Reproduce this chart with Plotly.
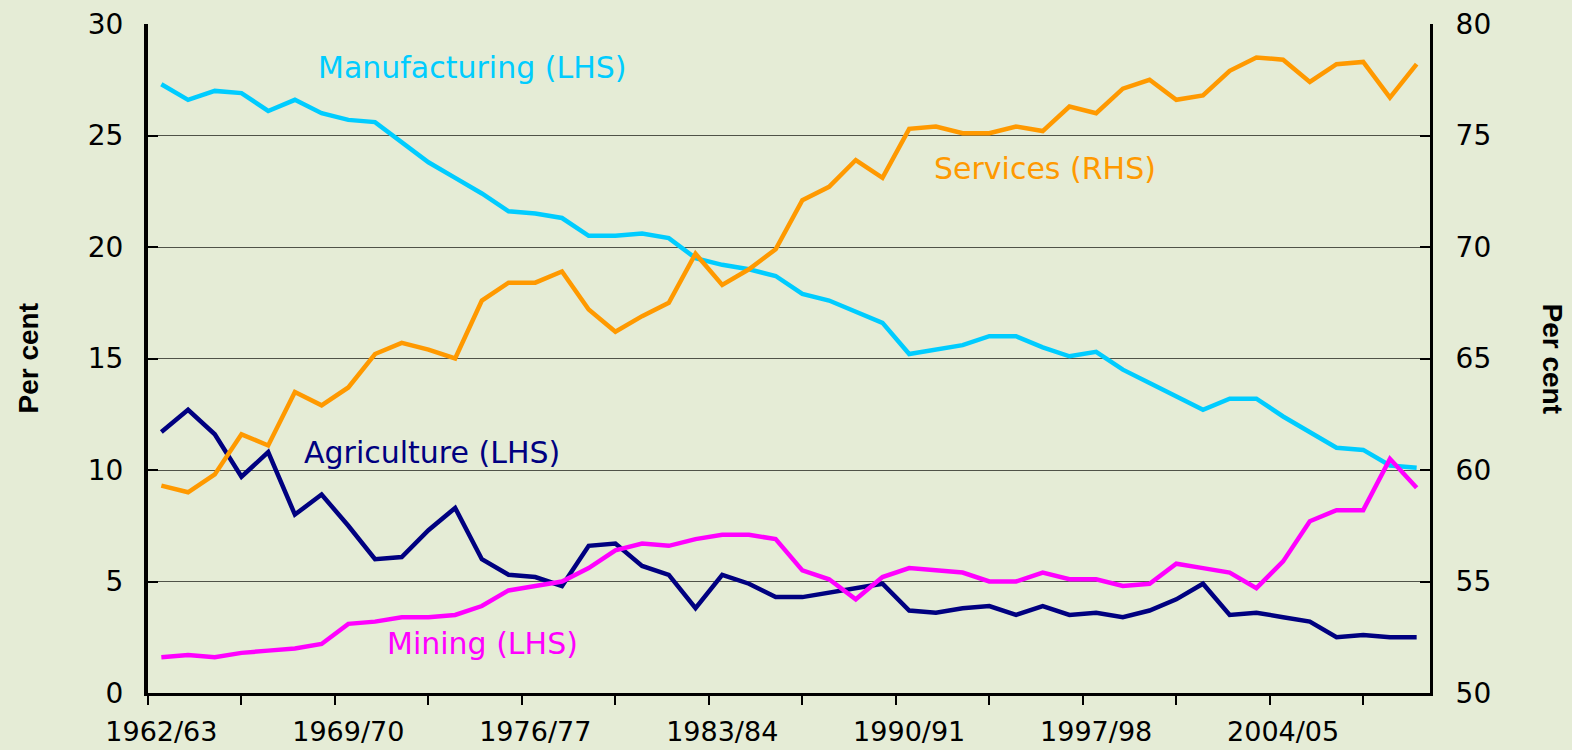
import plotly.graph_objects as go

years = [f"{y}/{(y + 1) % 100:02d}" for y in range(1962, 2010)]

manufacturing = [27.3, 26.6, 27.0, 26.9, 26.1, 26.6, 26.0, 25.7, 25.6, 24.7,
                 23.8, 23.1, 22.4, 21.6, 21.5, 21.3, 20.5, 20.5, 20.6, 20.4,
                 19.5, 19.2, 19.0, 18.7, 17.9, 17.6, 17.1, 16.6, 15.2, 15.4,
                 15.6, 16.0, 16.0, 15.5, 15.1, 15.3, 14.5, 13.9, 13.3, 12.7,
                 13.2, 13.2, 12.4, 11.7, 11.0, 10.9, 10.2, 10.1]
services = [59.3, 59.0, 59.8, 61.6, 61.1, 63.5, 62.9, 63.7, 65.2, 65.7,
            65.4, 65.0, 67.6, 68.4, 68.4, 68.9, 67.2, 66.2, 66.9, 67.5,
            69.7, 68.3, 69.0, 69.9, 72.1, 72.7, 73.9, 73.1, 75.3, 75.4,
            75.1, 75.1, 75.4, 75.2, 76.3, 76.0, 77.1, 77.5, 76.6, 76.8,
            77.9, 78.5, 78.4, 77.4, 78.2, 78.3, 76.7, 78.2]
agriculture = [11.7, 12.7, 11.6, 9.7, 10.8, 8.0, 8.9, 7.5, 6.0, 6.1,
               7.3, 8.3, 6.0, 5.3, 5.2, 4.8, 6.6, 6.7, 5.7, 5.3,
               3.8, 5.3, 4.9, 4.3, 4.3, 4.5, 4.7, 4.9, 3.7, 3.6,
               3.8, 3.9, 3.5, 3.9, 3.5, 3.6, 3.4, 3.7, 4.2, 4.9,
               3.5, 3.6, 3.4, 3.2, 2.5, 2.6, 2.5, 2.5]
mining = [1.6, 1.7, 1.6, 1.8, 1.9, 2.0, 2.2, 3.1, 3.2, 3.4,
          3.4, 3.5, 3.9, 4.6, 4.8, 5.0, 5.6, 6.4, 6.7, 6.6,
          6.9, 7.1, 7.1, 6.9, 5.5, 5.1, 4.2, 5.2, 5.6, 5.5,
          5.4, 5.0, 5.0, 5.4, 5.1, 5.1, 4.8, 4.9, 5.8, 5.6,
          5.4, 4.7, 5.9, 7.7, 8.2, 8.2, 10.5, 9.2]

left_ticks = [0, 5, 10, 15, 20, 25, 30]
right_ticks = [50, 55, 60, 65, 70, 75, 80]

C_MAN = "#00CCFF"
C_SER = "#FF9900"
C_AGR = "#000080"
C_MIN = "#FF00FF"
BG = "#E5ECD6"
FONT = "DejaVu Sans"

W, H = 1572, 750
ML, MR, MT, MB = 148, 142, 24, 57
PW = W - ML - MR

idx = list(range(len(years)))
label_pos = idx[::7]

fig = go.Figure()
fig.add_trace(go.Scatter(x=idx, y=manufacturing, mode="lines", name="Manufacturing (LHS)",
                         line=dict(color=C_MAN, width=4.5)))
fig.add_trace(go.Scatter(x=idx, y=agriculture, mode="lines", name="Agriculture (LHS)",
                         line=dict(color=C_AGR, width=4.5)))
fig.add_trace(go.Scatter(x=idx, y=mining, mode="lines", name="Mining (LHS)",
                         line=dict(color=C_MIN, width=4.5)))
fig.add_trace(go.Scatter(x=idx, y=services, mode="lines", name="Services (RHS)",
                         line=dict(color=C_SER, width=4.5), yaxis="y2"))

labels = [
    ("Manufacturing (LHS)", 11.65, 28.03, C_MAN),
    ("Services (RHS)", 33.1, 23.54, C_SER),
    ("Agriculture (LHS)", 10.15, 10.8, C_AGR),
    ("Mining (LHS)", 12.03, 2.24, C_MIN),
]
for text, lx, ly, col in labels:
    fig.add_annotation(x=lx, y=ly, xref="x", yref="y", text=text, showarrow=False,
                       font=dict(family=FONT, size=30, color=col),
                       xanchor="center", yanchor="middle")

fig.add_annotation(x=(28 - ML) / PW, y=0.5, xref="paper", yref="paper",
                   text="<b>Per cent</b>", showarrow=False, textangle=-90,
                   xanchor="center", yanchor="middle",
                   font=dict(family="Liberation Sans", size=28, color="black"))
fig.add_annotation(x=(1552 - ML) / PW, y=0.5, xref="paper", yref="paper",
                   text="<b>Per cent</b>", showarrow=False, textangle=90,
                   xanchor="center", yanchor="middle",
                   font=dict(family="Liberation Sans", size=28, color="black"))

fig.update_layout(
    width=W, height=H,
    margin=dict(l=ML, r=MR, t=MT, b=MB, autoexpand=False),
    paper_bgcolor=BG, plot_bgcolor=BG,
    showlegend=False,
    font=dict(family=FONT, size=28, color="black"),
    xaxis=dict(
        range=[-0.5, len(years) - 0.5], automargin=False,
        tickmode="array", tickvals=label_pos, ticktext=[years[i] for i in label_pos],
        ticks="", showgrid=False, zeroline=False,
        showline=True, linecolor="black", linewidth=3,
        ticklabelstandoff=13,
        tickfont=dict(family=FONT, size=27, color="black"),
        minor=dict(tickmode="linear", tick0=-0.5, dtick=3.5, ticks="outside",
                   ticklen=9, tickwidth=2, tickcolor="black", showgrid=False),
    ),
    yaxis=dict(
        range=[0, 30], tickmode="array", tickvals=left_ticks, automargin=False,
        ticks="inside", ticklen=10, tickwidth=2, tickcolor="black",
        showgrid=True, gridcolor="#4F5248", gridwidth=1, zeroline=False,
        showline=True, linecolor="black", linewidth=4,
        ticklabelstandoff=15,
        tickfont=dict(family=FONT, size=28, color="black"),
    ),
    yaxis2=dict(
        range=[50, 80], tickmode="array", tickvals=right_ticks, automargin=False,
        overlaying="y", side="right",
        ticks="inside", ticklen=10, tickwidth=2, tickcolor="black",
        showgrid=False, zeroline=False,
        showline=True, linecolor="black", linewidth=3,
        ticklabelstandoff=17,
        tickfont=dict(family=FONT, size=28, color="black"),
    ),
)

fig.write_html("out.html", config={"displayModeBar": False},
               post_script="document.body.style.margin='0';document.body.style.overflow='hidden';")
